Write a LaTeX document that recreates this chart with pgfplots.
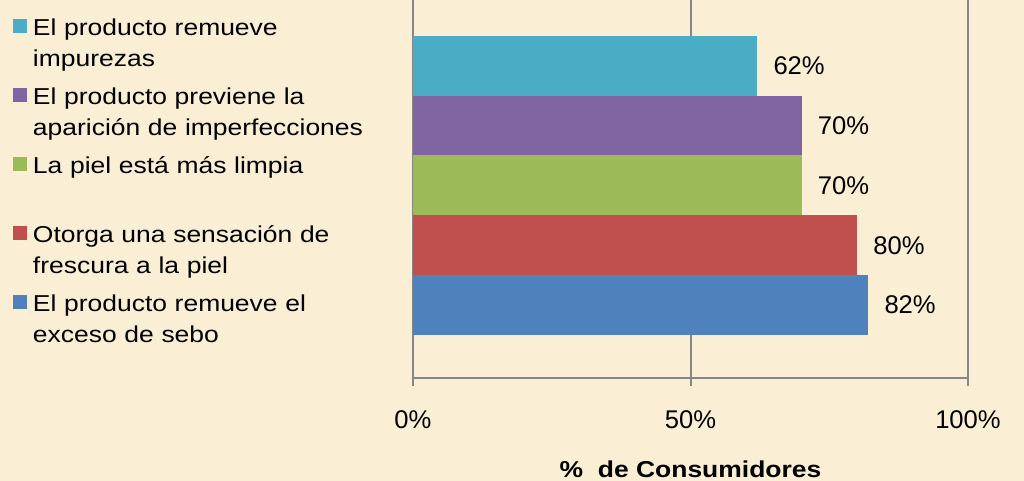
\documentclass[border=0pt]{standalone}
\usepackage{fontspec}
\setmainfont{Liberation Sans}[FakeStretch=1.15]
\newfontfamily\numfont{Liberation Sans}
\usepackage{pgfplots}
\pgfplotsset{compat=1.18}
\definecolor{bgcol}{RGB}{250,238,212}
\definecolor{gridgray}{RGB}{134,134,134}
\definecolor{cblue}{RGB}{79,129,189}
\definecolor{cred}{RGB}{192,80,77}
\definecolor{cgreen}{RGB}{155,187,89}
\definecolor{cpurple}{RGB}{128,100,162}
\definecolor{ccyan}{RGB}{75,172,198}
\begin{document}
\begin{tikzpicture}
\useasboundingbox (0,0) rectangle (512pt,240.5pt);
\fill[bgcol] (0,0) rectangle (512pt,240.5pt);
\begin{axis}[
  at={(206.5pt,51.5pt)}, anchor=south west,
  scale only axis, width=277.5pt, height=189pt,
  xmin=0, xmax=100, ymin=-0.22, ymax=6.1,
  axis x line*=bottom, axis y line=none,
  x axis line style={gridgray, line width=1pt},
  xtick={0,50,100},
  xticklabel={\pgfmathprintnumber{\tick}\%},
  /pgf/number format/assume math mode=true,
  tick align=outside, major tick length=4pt,
  xtick style={gridgray, line width=1pt},
  xmajorgrids, grid style={gridgray, line width=1pt},
  ticklabel style={font=\numfont\fontsize{12.8}{14}\selectfont},
  xticklabel style={anchor=base, yshift=-21.5pt},
  xlabel={\textbf{\%\ \ de Consumidores}},
  xlabel style={at={(axis description cs:0.5,0)}, anchor=base, yshift=-50pt, inner sep=0pt, font=\fontsize{11.5}{14}\selectfont},
  every axis plot/.append style={xbar, draw=none, bar width=1, bar shift=0pt,
    point meta=x,
    nodes near coords={\pgfmathprintnumber{\pgfplotspointmeta}\%},
    nodes near coords align=horizontal,
    every node near coord/.append style={anchor=west, inner sep=0pt, xshift=8pt, font=\numfont\fontsize{12.8}{14}\selectfont, text=black},
    legend image code/.code={\fill[##1] (0pt,1.35pt) rectangle (7pt,8.35pt);}},
  reverse legend,
  legend style={at={(axis description cs:0,1)}, anchor=north west, xshift=-200pt, yshift=-7pt,
    draw=none, fill=none, inner sep=0pt, outer sep=0pt, row sep=3.5pt,
    font=\fontsize{11.5}{15.5}\selectfont,
    cells={anchor=base west},
    nodes={text width=200pt, align=left, inner sep=0pt, outer sep=0pt, text height=10.85pt, text depth=20.15pt},
    /tikz/every odd column/.append style={column sep=3pt}},
]
\addplot[fill=cblue] coordinates {(82,1)};
\addlegendentry{El producto remueve el\\exceso de sebo}
\addplot[fill=cred] coordinates {(80,2)};
\addlegendentry{Otorga una sensación de\\frescura a la piel}
\addplot[fill=cgreen] coordinates {(70,3)};
\addlegendentry{La piel está más limpia}
\addplot[fill=cpurple] coordinates {(70,4)};
\addlegendentry{El producto previene la\\aparición de imperfecciones}
\addplot[fill=ccyan] coordinates {(62,5)};
\addlegendentry{El producto remueve\\impurezas}
\end{axis}
\end{tikzpicture}
\end{document}
